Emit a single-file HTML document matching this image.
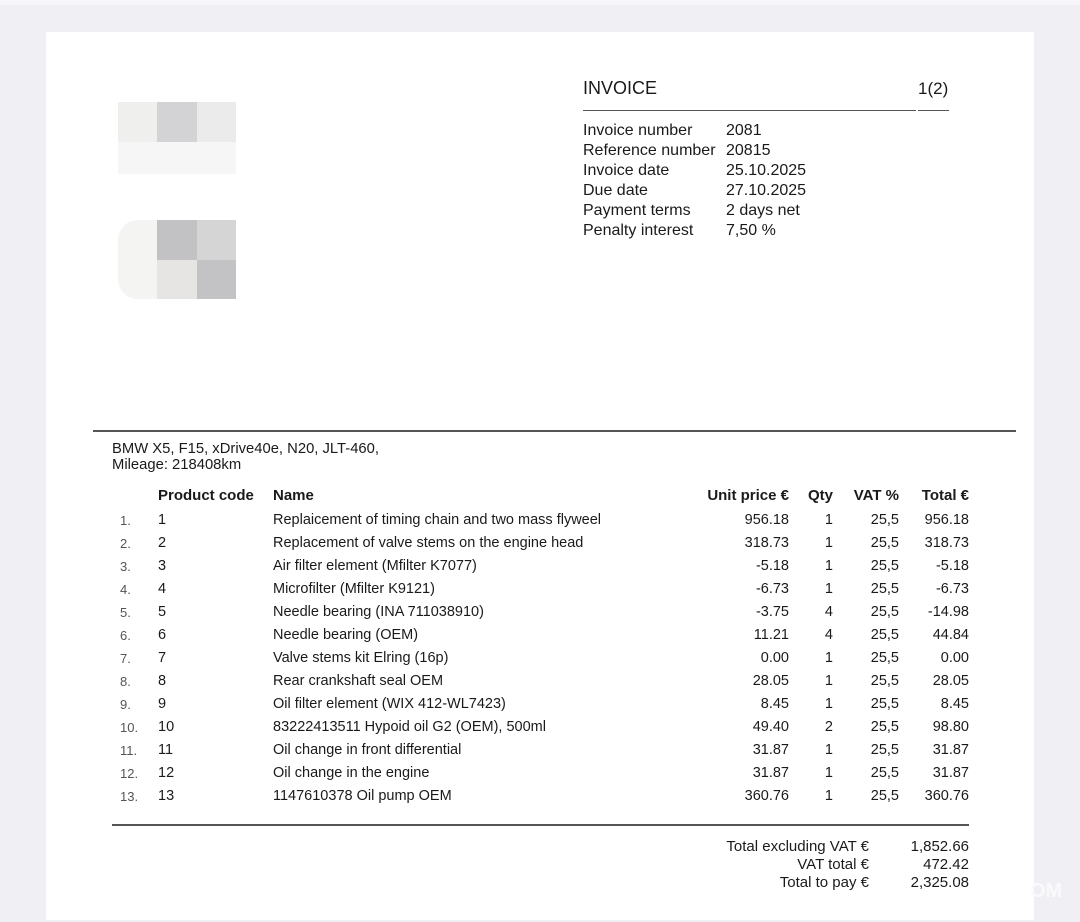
<!DOCTYPE html>
<html><head><meta charset="utf-8"><style>
body{margin:0;width:1080px;height:922px;background:#efeff4;position:relative;overflow:hidden;font-family:"Liberation Sans",Arial,sans-serif;color:#1a1a1a}
.top{position:absolute;left:0;top:0;width:1080px;height:5px;background:#f7f6fb}
.page{position:absolute;left:46px;top:32px;width:988px;height:888px;background:#fff}
.t{position:absolute;white-space:nowrap;line-height:18px;font-size:15px}
.r{text-align:right}
.b{font-weight:bold;font-size:15px}
.i{font-size:13px;color:#555}
.ln{position:absolute;background:#555}
.blk{position:absolute;}
</style></head><body>
<div class="top"></div>
<div class="page"></div>
<div class="blk" style="left:118px;top:102px;width:40px;height:40px;background:#efefed"></div>
<div class="blk" style="left:157px;top:102px;width:40px;height:40px;background:#d3d3d5"></div>
<div class="blk" style="left:197px;top:102px;width:39px;height:40px;background:#ebebeb"></div>
<div class="blk" style="left:118px;top:142px;width:118px;height:32px;background:#f6f6f6"></div>
<div class="blk" style="left:118px;top:220px;width:40px;height:79px;background:#f4f4f3;border-radius:20px 0 0 20px"></div>
<div class="blk" style="left:157px;top:220px;width:40px;height:40px;background:#c2c2c4"></div>
<div class="blk" style="left:197px;top:220px;width:39px;height:40px;background:#d5d5d6"></div>
<div class="blk" style="left:157px;top:260px;width:40px;height:39px;background:#e6e5e4"></div>
<div class="blk" style="left:197px;top:260px;width:39px;height:39px;background:#c3c3c5"></div>

<div class="t" style="left:583px;top:79px;font-size:18px">INVOICE</div>
<div class="t" style="left:918px;top:80px;font-size:17px">1(2)</div>
<div class="ln" style="left:583px;top:110px;width:333px;height:1px"></div>
<div class="ln" style="left:918px;top:110px;width:31px;height:1px"></div>
<div class="t" style="left:583px;top:121px;line-height:20px;font-size:16px">Invoice number<br>Reference number<br>Invoice date<br>Due date<br>Payment terms<br>Penalty interest</div>
<div class="t" style="left:726px;top:121px;line-height:20px;font-size:16px">2081<br>20815<br>25.10.2025<br>27.10.2025<br>2 days net<br>7,50 %</div>

<div class="ln" style="left:93px;top:430px;width:923px;height:2px"></div>
<div class="t" style="left:112px;top:441px;font-size:14.8px;line-height:16px">BMW X5, F15, xDrive40e, N20, JLT-460,<br>Mileage: 218408km</div>

<div class="t b" style="left:158px;top:487px">Product code</div>
<div class="t b" style="left:273px;top:487px">Name</div>
<div class="t b r" style="left:669px;top:487px;width:120px">Unit price €</div>
<div class="t b r" style="left:793px;top:487px;width:40px">Qty</div>
<div class="t b r" style="left:829px;top:487px;width:70px">VAT %</div>
<div class="t b r" style="left:889px;top:487px;width:80px">Total €</div>

<div style="position:absolute;left:0;top:509px">
<div class="t i" style="left:120px;top:0;line-height:23px">1.<br>2.<br>3.<br>4.<br>5.<br>6.<br>7.<br>8.<br>9.<br>10.<br>11.<br>12.<br>13.</div>
<div class="t" style="left:158px;top:0;line-height:23px;font-size:14.5px">1<br>2<br>3<br>4<br>5<br>6<br>7<br>8<br>9<br>10<br>11<br>12<br>13</div>
<div class="t" style="left:273px;top:0;line-height:23px;font-size:14.5px">Replaicement of timing chain and two mass flyweel<br>Replacement of valve stems on the engine head<br>Air filter element (Mfilter K7077)<br>Microfilter (Mfilter K9121)<br>Needle bearing (INA 711038910)<br>Needle bearing (OEM)<br>Valve stems kit Elring (16p)<br>Rear crankshaft seal OEM<br>Oil filter element (WIX 412-WL7423)<br>83222413511 Hypoid oil G2 (OEM), 500ml<br>Oil change in front differential<br>Oil change in the engine<br>1147610378 Oil pump OEM</div>
<div class="t r" style="left:689px;top:0;width:100px;line-height:23px;font-size:14.5px">956.18<br>318.73<br>-5.18<br>-6.73<br>-3.75<br>11.21<br>0.00<br>28.05<br>8.45<br>49.40<br>31.87<br>31.87<br>360.76</div>
<div class="t r" style="left:793px;top:0;width:40px;line-height:23px;font-size:14.5px">1<br>1<br>1<br>1<br>4<br>4<br>1<br>1<br>1<br>2<br>1<br>1<br>1</div>
<div class="t r" style="left:839px;top:0;width:60px;line-height:23px;font-size:14.5px">25,5<br>25,5<br>25,5<br>25,5<br>25,5<br>25,5<br>25,5<br>25,5<br>25,5<br>25,5<br>25,5<br>25,5<br>25,5</div>
<div class="t r" style="left:889px;top:0;width:80px;line-height:23px;font-size:14.5px">956.18<br>318.73<br>-5.18<br>-6.73<br>-14.98<br>44.84<br>0.00<br>28.05<br>8.45<br>98.80<br>31.87<br>31.87<br>360.76</div>
</div>

<div class="ln" style="left:112px;top:824px;width:857px;height:2px"></div>
<div class="t r" style="left:669px;top:838px;width:200px;font-size:15px;line-height:18px">Total excluding VAT €<br>VAT total €<br>Total to pay €</div>
<div class="t r" style="left:869px;top:838px;width:100px;font-size:15px;line-height:18px">1,852.66<br>472.42<br>2,325.08</div>
<div class="t" style="left:1030px;top:882px;font-size:20px;font-weight:bold;color:#fafafc">OM</div>
</body></html>
